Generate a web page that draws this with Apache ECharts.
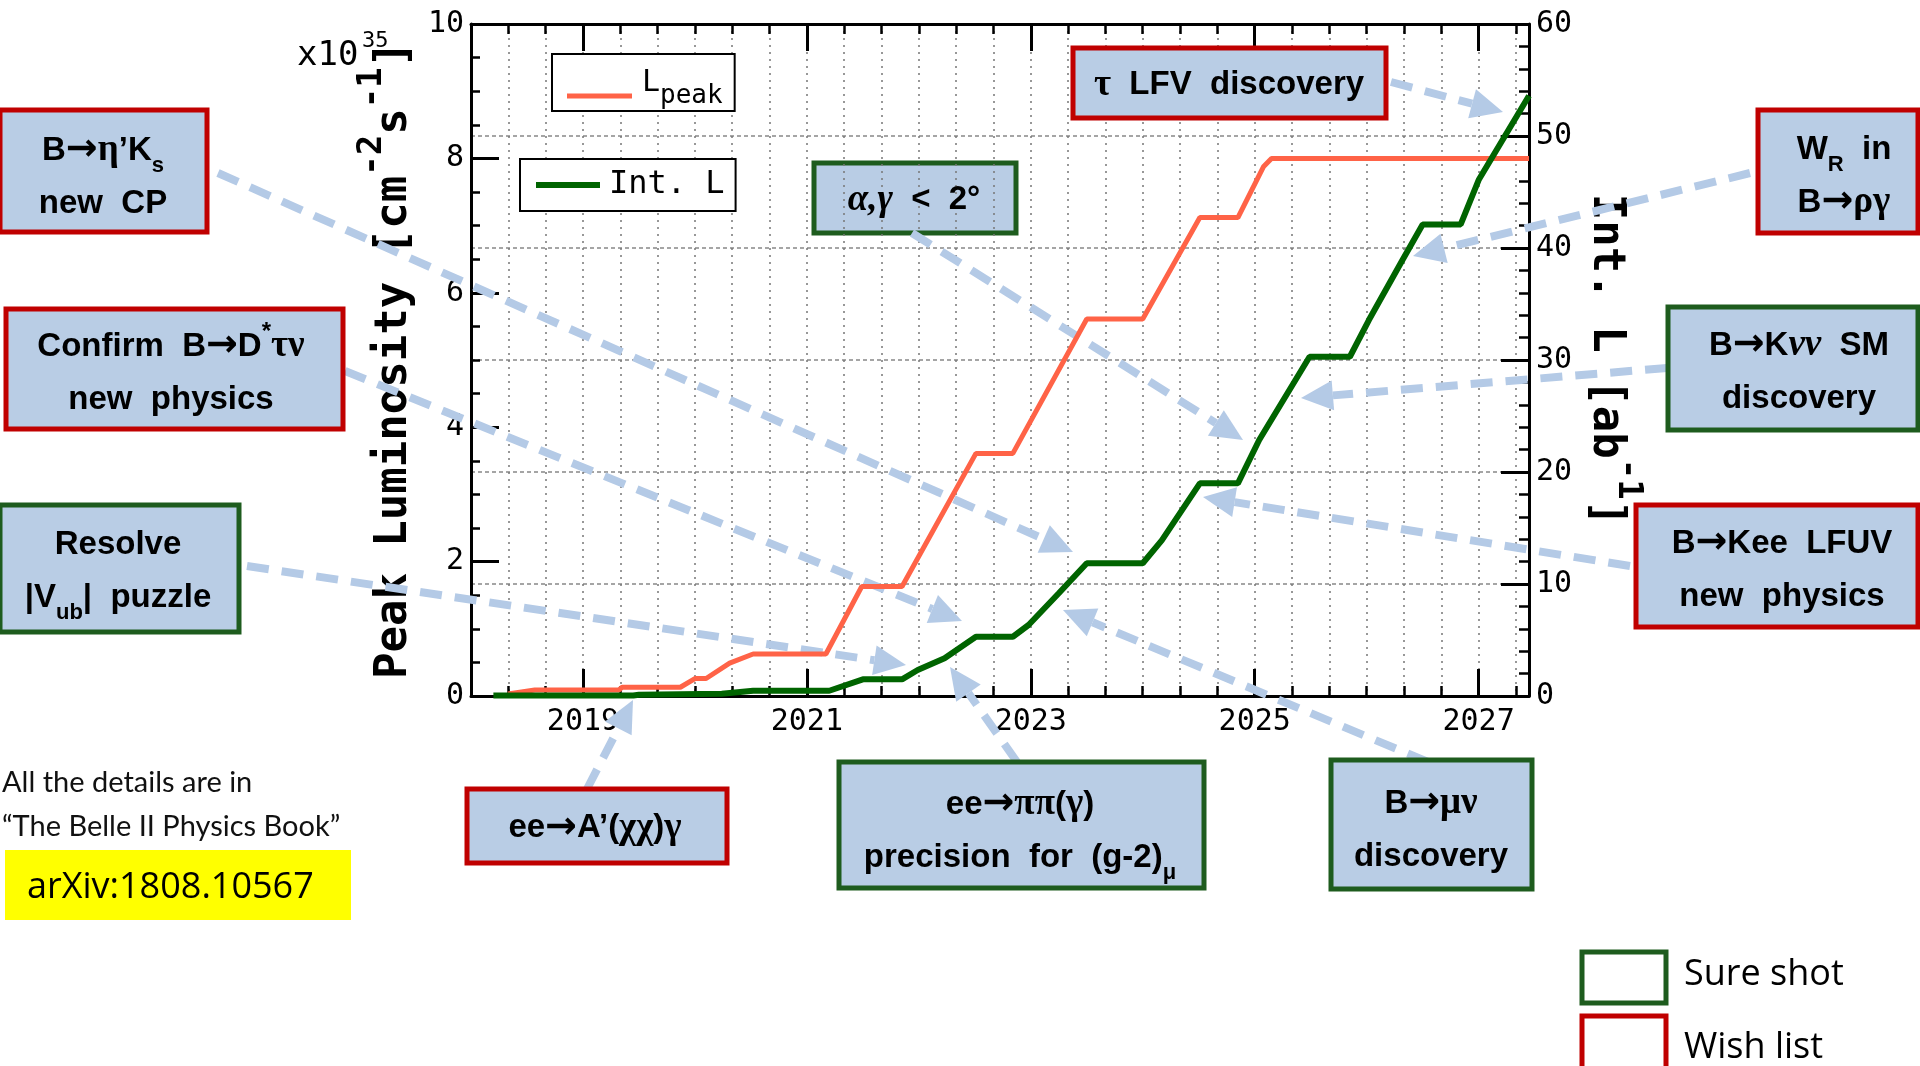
<!DOCTYPE html>
<html><head><meta charset="utf-8">
<script src="https://cdn.jsdelivr.net/npm/echarts@6/dist/echarts.min.js"></script>
<style>html,body{margin:0;padding:0;background:#fff}#c{width:1920px;height:1066px}</style>
</head><body><div id="c"></div>
<script>
// ---------------- data ----------------
const peakYears = [2018.33, 2018.57, 2019.32, 2019.35, 2019.87, 2020.0, 2020.1, 2020.31, 2020.52, 2021.17, 2021.49, 2021.85, 2022.51, 2022.84, 2023.5, 2024.0, 2024.51, 2024.85, 2025.08, 2025.15, 2027.45];
const peakLumi  = [0.03, 0.09, 0.09, 0.13, 0.13, 0.26, 0.26, 0.49, 0.625, 0.625, 1.63, 1.63, 3.61, 3.61, 5.61, 5.61, 7.12, 7.12, 7.88, 8.0, 8.0];
const intYears = [2018.2, 2019.45, 2019.5, 2020.24, 2020.52, 2021.2, 2021.5, 2021.85, 2021.99, 2022.23, 2022.51, 2022.84, 2022.98, 2023.25, 2023.5, 2024.0, 2024.17, 2024.51, 2024.85, 2025.04, 2025.49, 2025.85, 2026.02, 2026.32, 2026.5, 2026.84, 2027.0, 2027.45];
const intLumi  = [0.05, 0.05, 0.12, 0.2, 0.47, 0.47, 1.49, 1.49, 2.32, 3.37, 5.29, 5.29, 6.34, 9.17, 11.85, 11.85, 13.9, 18.99, 18.99, 22.86, 30.29, 30.29, 33.57, 38.93, 42.1, 42.1, 46.07, 53.6];
const xLabelYears = [2019, 2021, 2023, 2025, 2027];
const seriesNames = ['L_peak', 'Int. L'];

// ---------------- styles ----------------
const MONO = 'DejaVu Sans Mono', SANS = 'Liberation Sans', SERIF = 'Liberation Serif';
const NAVY = '#000080', RED = '#C00000', GREEN = '#1E5C1E', FILL = '#B9CDE5', ARROW = '#B4CAE6';
const X_MIN = 2018, X_MAX = 2027.45;

const RICH = {
  t:  {fontFamily: SANS, fontWeight: 'bold', fontSize: 33, color: NAVY, lineHeight: 53},
  ar: {fontFamily: 'DejaVu Sans', fontWeight: 'bold', fontSize: 38, color: NAVY, lineHeight: 53},
  g:  {fontFamily: SERIF, fontWeight: 'bold', fontSize: 37, color: NAVY, lineHeight: 53},
  gi: {fontFamily: SERIF, fontWeight: 'bold', fontStyle: 'italic', fontSize: 37, color: NAVY, lineHeight: 53},
  sb: {fontFamily: SANS, fontWeight: 'bold', fontSize: 22, color: NAVY, lineHeight: 40, verticalAlign: 'bottom'},
  sp: {fontFamily: SANS, fontWeight: 'bold', fontSize: 24, color: NAVY, lineHeight: 40, verticalAlign: 'top'}
};

// annotation boxes: [text, x, y, w, h, border, textCx, textCy]
const boxes = [
  ['{t|B}{ar|→}{g|η}{t|’K}{sb|s}\n{t|new  CP}', 0, 110, 207, 122, RED, 103, 177],
  ['{t|Confirm  B}{ar|→}{t|D}{sp|*}{g|τν}\n{t|new  physics}', 6, 309, 337, 120, RED, 171, 373],
  ['{t|Resolve}\n{t||V}{sb|ub}{t||  puzzle}', 0, 505, 239, 127, GREEN, 118, 571],
  ['{g|τ}{t|  LFV  discovery}', 1073, 48, 313, 70, RED, 1229, 85],
  ['{gi|α,γ}{t|  <  2°}', 814, 163, 202, 70, GREEN, 914, 200],
  ['{t|W}{sb|R}{t|  in}\n{t|B}{ar|→}{g|ργ}', 1758, 110, 160, 123, RED, 1844, 176],
  ['{t|B}{ar|→}{t|K}{gi|νν}{t|  SM}\n{t|discovery}', 1668, 307, 250, 123, GREEN, 1799, 372],
  ['{t|B}{ar|→}{t|Kee  LFUV}\n{t|new  physics}', 1636, 505, 282, 122, RED, 1782, 570],
  ['{t|ee}{ar|→}{t|A’(}{g|χχ}{t|)}{g|γ}', 467, 789, 260, 74, RED, 595, 828],
  ['{t|ee}{ar|→}{g|ππ}{t|(}{g|γ}{t|)}\n{t|precision  for  (g-2)}{sb|μ}', 839, 762, 365, 126, GREEN, 1020, 831],
  ['{t|B}{ar|→}{g|μν}\n{t|discovery}', 1331, 760, 201, 129, GREEN, 1431, 830]
];
// arrows: [x1, y1, tipX, tipY]
const arrows = [
  [218, 173, 1073, 552],
  [345, 371, 962, 621],
  [247, 566, 906, 665],
  [587, 789, 633, 700],
  [1017, 762, 950, 667],
  [1428, 762, 1063, 610],
  [1391, 82, 1503, 112],
  [1750, 173, 1413, 256],
  [1667, 368, 1301, 398],
  [1630, 566, 1203, 497],
  [912, 233, 1243, 440]
];

function arrowEls(a) {
  const [x1, y1, x2, y2] = a;
  const dx = x2 - x1, dy = y2 - y1, len = Math.hypot(dx, dy), ux = dx / len, uy = dy / len;
  const L = 32, W = 15;
  const bx = x2 - ux * L, by = y2 - uy * L;
  return [
    {type: 'line', z: 1, silent: true, shape: {x1: x1, y1: y1, x2: bx, y2: by},
     style: {stroke: ARROW, lineWidth: 8, lineDash: [22, 13]}},
    {type: 'polygon', z: 1, silent: true,
     shape: {points: [[x2, y2], [bx - uy * W, by + ux * W], [bx + uy * W, by - ux * W]]},
     style: {fill: ARROW}}
  ];
}

const graphics = [];
arrows.forEach(a => graphics.push(...arrowEls(a)));
boxes.forEach((b, i) => {
  graphics.push({type: 'rect', z: i === 4 ? -1 : 10, silent: true,
    shape: {x: b[1], y: b[2], width: b[3], height: b[4]},
    style: {fill: FILL, stroke: b[5], lineWidth: 5}});
  graphics.push({type: 'text', z: 11, silent: true, x: b[6], y: b[7],
    style: {text: b[0], rich: RICH, align: 'center', verticalAlign: 'middle'}});
});
// x10^35
graphics.push({type: 'text', z: 5, x: 297, y: 56, style: {text: 'x10', font: '34px "DejaVu Sans Mono"', fill: '#000', align: 'left', verticalAlign: 'middle'}});
graphics.push({type: 'text', z: 5, x: 362, y: 41, style: {text: '35', font: '22px "DejaVu Sans Mono"', fill: '#000', align: 'left', verticalAlign: 'middle'}});
// references
graphics.push({type: 'text', z: 5, x: 2, y: 783, style: {text: 'All the details are in', font: '29px Lato', fill: '#111', align: 'left', verticalAlign: 'middle'}});
graphics.push({type: 'text', z: 5, x: 2, y: 827, style: {text: '“The Belle II Physics Book”', font: '29px Lato', fill: '#111', align: 'left', verticalAlign: 'middle'}});
graphics.push({type: 'rect', z: 5, shape: {x: 5, y: 850, width: 346, height: 70}, style: {fill: '#FFFF00'}});
graphics.push({type: 'text', z: 6, x: 27, y: 888, style: {text: 'arXiv:1808.10567', font: '36px "Open Sans"', fill: '#000', align: 'left', verticalAlign: 'middle'}});
// category legend
graphics.push({type: 'rect', z: 5, shape: {x: 1582, y: 952, width: 84, height: 51}, style: {fill: '#fff', stroke: GREEN, lineWidth: 5}});
graphics.push({type: 'text', z: 5, x: 1684, y: 975, style: {text: 'Sure shot', font: '36px "Open Sans"', fill: '#000', align: 'left', verticalAlign: 'middle'}});
graphics.push({type: 'rect', z: 5, shape: {x: 1582, y: 1016, width: 84, height: 60}, style: {fill: '#fff', stroke: RED, lineWidth: 5}});
graphics.push({type: 'text', z: 5, x: 1684, y: 1048, style: {text: 'Wish list', font: '36px "Open Sans"', fill: '#000', align: 'left', verticalAlign: 'middle'}});

// ---------------- axes ----------------
const AX = {color: '#000', width: 3};
function xMinor(pos) {
  return {type: 'value', position: pos, min: X_MIN, max: X_MAX, interval: 1 / 3,
    axisLine: {show: true, onZero: false, lineStyle: AX},
    axisTick: {show: true, inside: true, length: 10, lineStyle: {color: '#000', width: 2.5}},
    axisLabel: {show: false},
    splitLine: {show: pos === 'bottom', lineStyle: {type: [2, 5], color: '#777', width: 1.5}}};
}
function xMajor(pos) {
  return {type: 'value', position: pos, min: X_MIN, max: X_MAX,
    axisLine: {show: false, onZero: false},
    axisTick: {show: true, inside: true, length: 27, customValues: xLabelYears, lineStyle: {color: '#000', width: 3}},
    axisLabel: {show: pos === 'bottom', customValues: xLabelYears, fontFamily: MONO, fontSize: 30, color: '#000', margin: 11,
      formatter: v => String(Math.round(v))},
    splitLine: {show: false}};
}

const option = {
  animation: false,
  backgroundColor: '#fff',
  grid: {left: 471, top: 24, width: 1058, height: 672, containLabel: false},
  xAxis: [xMinor('bottom'), xMajor('bottom'), xMinor('top'), xMajor('top')],
  yAxis: [
    {type: 'value', position: 'left', min: 0, max: 10, interval: 2,
     axisLine: {show: true, onZero: false, lineStyle: AX},
     axisTick: {show: true, inside: true, length: 28, lineStyle: {color: '#000', width: 3}},
     minorTick: {show: true, splitNumber: 4, length: 9, lineStyle: {color: '#000', width: 2.5}},
     axisLabel: {fontFamily: MONO, fontSize: 30, color: '#000', margin: 7},
     splitLine: {show: false},
     name: '{t|Peak Luminosity [cm}{s|-2}{t|s}{s|-1}{t|]}',
     nameLocation: 'middle', nameGap: 33, nameRotate: 90,
     nameTextStyle: {rich: {
       t: {fontFamily: MONO, fontWeight: 'bold', fontSize: 44, color: '#000', lineHeight: 80},
       s: {fontFamily: MONO, fontWeight: 'bold', fontSize: 34, color: '#000', lineHeight: 40, verticalAlign: 'top'}}}},
    {type: 'value', position: 'right', min: 0, max: 60, interval: 10,
     axisLine: {show: true, onZero: false, lineStyle: AX},
     axisTick: {show: true, inside: true, length: 28, lineStyle: {color: '#000', width: 3}},
     minorTick: {show: true, splitNumber: 5, length: 10, lineStyle: {color: '#000', width: 2.5}},
     axisLabel: {fontFamily: MONO, fontSize: 30, color: '#000', margin: 7},
     splitLine: {show: true, lineStyle: {type: [4, 3], color: '#888', width: 1.5}},
     name: '{t|Int. L [ab}{s|-1}{t|]}',
     nameLocation: 'middle', nameGap: 30, nameRotate: -90,
     nameTextStyle: {rich: {
       t: {fontFamily: MONO, fontWeight: 'bold', fontSize: 44, color: '#000', lineHeight: 80},
       s: {fontFamily: MONO, fontWeight: 'bold', fontSize: 34, color: '#000', lineHeight: 40, verticalAlign: 'top'}}}}
  ],
  legend: [
    {data: [seriesNames[0]], left: 552, top: 54, padding: [14, 12, 2, 15], icon: 'rect', itemWidth: 65, itemHeight: 5,
     backgroundColor: '#fff', borderColor: '#000', borderWidth: 2, selectedMode: false,
     formatter: () => '{a|L}{b|peak}',
     textStyle: {rich: {
       a: {fontFamily: MONO, fontSize: 30, color: '#000', lineHeight: 40, verticalAlign: 'top', padding: [0, 0, 0, 5]},
       b: {fontFamily: MONO, fontSize: 26, color: '#000', lineHeight: 56}}}},
    {data: [seriesNames[1]], left: 520, top: 159, padding: [10, 11, 10, 16], icon: 'rect', itemWidth: 64, itemHeight: 6,
     backgroundColor: '#fff', borderColor: '#000', borderWidth: 2, selectedMode: false,
     formatter: () => '{a|Int. L}',
     textStyle: {rich: {a: {fontFamily: MONO, fontSize: 32, color: '#000', lineHeight: 36, padding: [0, 0, 0, 4]}}}}
  ],
  series: [
    {name: seriesNames[0], type: 'line', xAxisIndex: 0, yAxisIndex: 0, z: 3,
     data: peakYears.map((x, i) => [x, peakLumi[i]]), showSymbol: false, symbol: 'none',
     lineStyle: {color: '#FF6347', width: 5}, itemStyle: {color: '#FF6347'}},
    {name: seriesNames[1], type: 'line', xAxisIndex: 0, yAxisIndex: 1, z: 3,
     data: intYears.map((x, i) => [x, intLumi[i]]), showSymbol: false, symbol: 'none',
     lineStyle: {color: '#006400', width: 6}, itemStyle: {color: '#006400'}}
  ],
  graphic: {elements: graphics}
};

const chart = echarts.init(document.getElementById('c'), null, {renderer: 'canvas', width: 1920, height: 1066});
chart.setOption(option);
</script>
</body></html>
